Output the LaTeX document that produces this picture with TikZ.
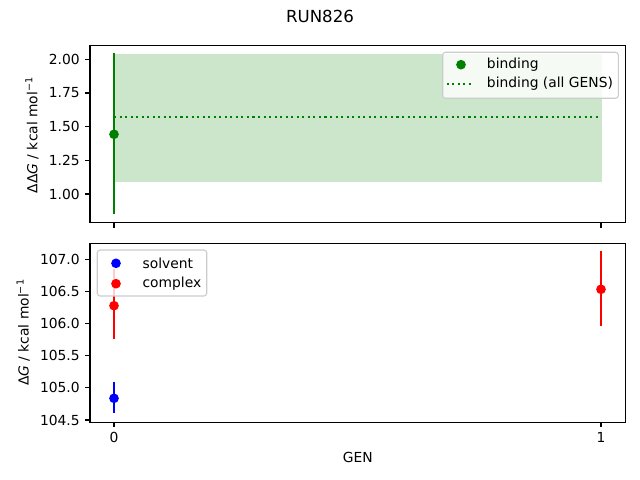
\documentclass[tikz,border=0pt]{standalone}
\usepackage{fontspec}
\setmainfont{DejaVu Sans}
\usetikzlibrary{positioning}

\definecolor{mplgreen}{RGB}{0,128,0}
\definecolor{mplred}{RGB}{255,0,0}
\definecolor{mplblue}{RGB}{0,0,255}
\definecolor{legendedge}{gray}{0.8}

\tikzset{
  dot/.style={circle,inner sep=0pt,minimum size=7pt},
  frame/.style={black,line width=0.8pt},
  tick/.style={black,line width=0.8pt},
  ticklabel/.style={inner sep=0pt,font=\fontsize{10}{12}\selectfont},
  legendbox/.style={draw=legendedge,line width=0.8pt,fill=white,fill opacity=0.8,rounded corners=2pt},
}

% name, x, y, y high, y low, colour
\newcommand{\errpoint}[6]{%
 \coordinate (#1hi) at (#2,#4);%
 \coordinate (#1lo) at (#2,#5);%
 \draw [#6,line width=1.5pt] (#1hi) -- (#1lo);%
 \node [dot,fill=#6] (#1) at (#2,#3) {};%
}
% name, y, text
\newcommand{\ytick}[3]{%
 \coordinate (#1) at (90,#2);%
 \draw [tick] (#1) -- ++(-4.9,0) node [ticklabel,anchor=east,xshift=-3.5pt] {#3};%
}

\begin{document}
\begin{tikzpicture}[x=0.01in,y=-0.01in]
  \useasboundingbox (0,0) rectangle (640,480);
  \node [font=\fontsize{12}{14}\selectfont] (title) at (320,16) {RUN826};

  % upper panel
  \fill [mplgreen,opacity=0.2] (114,54) rectangle (601.7,181.7);
  \coordinate (allL) at (114,116.7);
  \coordinate (allR) at (601,116.7);
  \draw [mplgreen,line width=1.5pt,dash pattern=on 1.5pt off 2.5pt] (allL) -- (allR);
  \errpoint{bind}{114}{134.3}{53.3}{214.3}{mplgreen}
  \draw [frame] (90,45.3) rectangle (625.7,222.7);
  \ytick{t100}{194}{1.00}
  \ytick{t125}{160.3}{1.25}
  \ytick{t150}{126.6}{1.50}
  \ytick{t175}{93}{1.75}
  \ytick{t200}{59.3}{2.00}
  \draw [tick] (114,222.7) -- ++(0,4.9);
  \draw [tick] (601,222.7) -- ++(0,4.9);
  \node [rotate=90] (ylabtop) at (32,135) {ΔΔ\textit{G} / kcal mol\textsuperscript{−1}};
  % legend
  \draw [legendbox] (442.7,52.3) rectangle (618.3,98.3);
  \node [dot,fill=mplgreen] (legbind) at (461,64.7) {};
  \node [ticklabel,anchor=west] (legbindtxt) at (486.7,64.7) {binding};
  \coordinate (legallL) at (446.7,84);
  \coordinate (legallR) at (474.3,84);
  \draw [mplgreen,line width=1.5pt,dash pattern=on 1.5pt off 2.5pt] (legallL) -- (legallR);
  \node [ticklabel,anchor=west] (legalltxt) at (486.7,84) {binding (all GENS)};

  % lower panel
  \errpoint{solv}{114}{398.3}{381.7}{413.3}{mplblue}
  \errpoint{cplxA}{114}{305.7}{269.3}{339.3}{mplred}
  \errpoint{cplxB}{601}{289.3}{251}{325.7}{mplred}
  \draw [frame] (90,243.3) rectangle (625.7,422.3);
  \ytick{b1045}{420}{104.5}
  \ytick{b1050}{387.9}{105.0}
  \ytick{b1055}{355.75}{105.5}
  \ytick{b1060}{323.6}{106.0}
  \ytick{b1065}{291.5}{106.5}
  \ytick{b1070}{259.3}{107.0}
  \draw [tick] (114,422.3) -- ++(0,4.9) node [ticklabel,anchor=north,yshift=-3.5pt] {0};
  \draw [tick] (601,422.3) -- ++(0,4.9) node [ticklabel,anchor=north,yshift=-3.5pt] {1};
  \node [rotate=90] (ylabbot) at (23.3,332.5) {Δ\textit{G} / kcal mol\textsuperscript{−1}};
  \node (xlab) at (357.9,457) {GEN};
  % legend
  \draw [legendbox] (97.3,250) rectangle (206.7,296);
  \node [dot,fill=mplblue] (legsolv) at (116,263.3) {};
  \node [ticklabel,anchor=west] (legsolvtxt) at (142.3,263.3) {solvent};
  \node [dot,fill=mplred] (legcplx) at (116,283.7) {};
  \node [ticklabel,anchor=west] (legcplxtxt) at (142.3,283.7) {complex};
\end{tikzpicture}
\end{document}
